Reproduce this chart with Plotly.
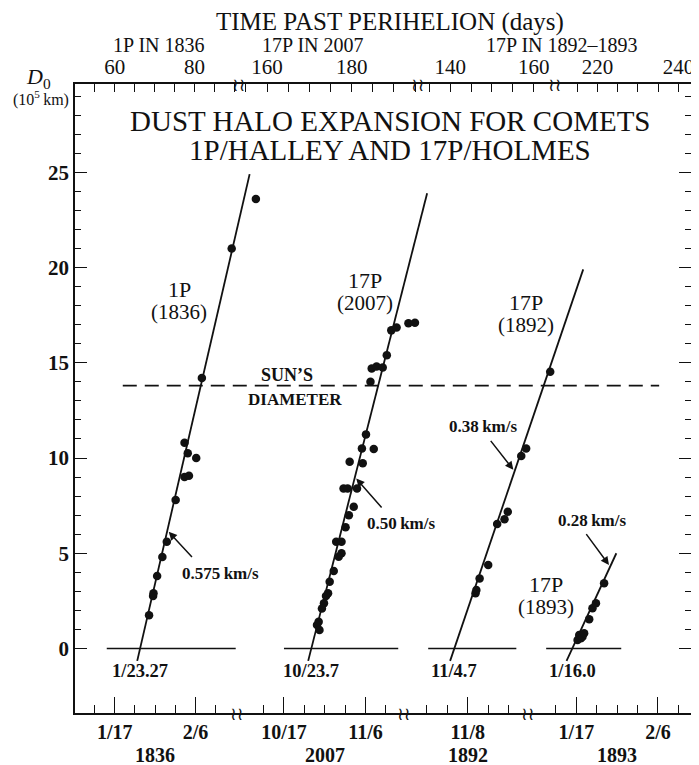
import plotly.graph_objects as go

# ---------------- data ----------------
# x values: days past perihelion; y values: halo diameter D0 in 1e5 km
# 1P/Halley 1836 (perihelion 1835 Nov 16)
HALLEY_T = [70.5, 71.5, 71.6, 72.5, 73.8, 74.9, 77.1, 79.3, 80.4, 79.3, 80.1, 82.2, 83.6, 91.0, 97.0]
HALLEY_D = [1.74, 2.75, 2.9, 3.8, 4.8, 5.6, 7.8, 9.0, 9.07, 10.8, 10.25, 10.0, 14.2, 21.0, 23.6]
# 17P/Holmes 2007 (perihelion 2007 May 4)
H2007_T = [174.5, 174.1, 174.7, 175.8, 175.3, 176.8, 176.3, 177.2, 178.2, 180.1, 179.4,
           178.8, 180.1, 181.1, 181.9, 183.1, 180.6, 181.6, 183.9, 182.1, 185.3,
           185.1, 188.0, 186.1, 187.2, 187.5, 188.7, 190.2, 191.2, 192.3, 193.6, 196.5, 198.1]
H2007_D = [1.4, 1.23, 0.97, 2.37, 2.1, 2.9, 2.76, 3.5, 4.07, 5.0, 4.82,
           5.6, 5.6, 6.36, 7.0, 7.44, 8.4, 8.4, 8.4, 9.8, 9.72,
           10.5, 10.47, 11.24, 14.0, 14.7, 14.8, 14.75, 15.4, 16.7, 16.85, 17.07, 17.1]
# 17P/Holmes 1892 (days past 1892 perihelion)
H1892_T = [146.9, 147.1, 147.9, 150.0, 152.2, 154.0, 154.8, 158.1, 159.3, 165.2]
H1892_D = [2.9, 3.07, 3.68, 4.38, 6.54, 6.78, 7.18, 10.1, 10.5, 14.53]
# 17P/Holmes 1893
H1893_T = [215.3, 215.7, 216.1, 216.5, 216.9, 218.15, 218.95, 219.8, 221.8]
H1893_D = [0.45, 0.71, 0.54, 0.62, 0.80, 1.53, 2.11, 2.37, 3.42]

PANEL_NAMES = ["1P", "17P", "17P", "17P"]
PANEL_YEARS = ["(1836)", "(2007)", "(1892)", "(1893)"]
ZERO_TIME = [68.27, 172.7, 141.7, 214.0]          # onset of expansion (days)
ZERO_LABELS = ["1/23.27", "10/23.7", "11/4.7", "1/16.0"]
RATE = [0.916, 0.842, 0.630, 0.463]                # 1e5 km per day (slope of fitted lines)
LINE_D_START = [-0.65, -0.65, -0.65, -0.65]
LINE_D_END = [24.9, 23.9, 19.9, 5.0]
SPEED_LABELS = ["0.575\u2009km/s", "0.50\u2009km/s", "0.38\u2009km/s", "0.28\u2009km/s"]
SPEED_ARROW_D = [6.2, 9.0, 9.3, 4.3]
BASE_START = [60.0, 166.0, 135.3, 207.6]
BASE_END = [92.0, 194.0, 156.9, 226.0]
SUN_DIAMETER = 13.8

# bottom (calendar) ticks
BOT_MAJOR = [[62, 82], [166, 186], [145], [215, 235]]
BOT_LABELS = [["1/17", "2/6"], ["10/17", "11/6"], ["11/8"], ["1/17", "2/6"]]
BOT_MINOR = [[57, 67, 72, 77, 87], [161, 171, 176, 181, 191], [135, 140, 150, 155],
             [210, 220, 225, 230, 240]]
BOT_YEARS = ["1836", "2007", "1892", "1893"]
BOT_YEAR_POS = [72, 176, 145, 225]
# top (time past perihelion) ticks
TOP_TICKS = [[55, 60, 65, 70, 75, 80, 85, 90],
             [155, 160, 165, 170, 175, 180, 185, 190, 195],
             [135, 140, 145, 150, 155, 160],
             [215, 220, 225, 230, 235, 240]]
TOP_LABELED = [[60, 80], [160, 180], [140, 160], [220, 240]]
TOP_GROUPS = ["1P IN 1836", "17P IN 2007", "17P IN 1892\u20131893"]
Y_MAJOR = [0, 5, 10, 15, 20, 25]
Y_MINOR = [v for v in range(1, 30) if v % 5 != 0]

# ---------------- geometry (screen pixels) ----------------
W, H = 699, 765
OFF = 8                      # page body margin
PL, PR, PT, PB = 75, 694, 84, 713
def fx(p):
    return (p - PL) / (PR - PL)
def fy(p):
    return (PB - p) / (PB - PT)

Y0_PX, PX_PER_UNIT = 648.5, 19.05
Y_RANGE = [-(PB - Y0_PX) / PX_PER_UNIT, (Y0_PX - PT) / PX_PER_UNIT]

# (reference day, its pixel, pixels/day, left px, right px)
BOT_GEO = [(62, 115, 4.05, 75, 262), (166, 285, 4.1, 238, 436),
           (145, 469.7, 4.1, 406, 594), (215, 578.8, 4.1, 530, 694)]
TOP_GEO = [(60, 115, 4.0, 75, 240), (160, 268, 4.25, 240, 420),
           (140, 452, 4.2, 420, 557), (220, 600, 4.07, 557, 694)]

SERIF = "Liberation Serif"
BLACK = "#111111"

def geo_axis(g):
    ref, refpx, ppd, a, b = g
    return [fx(a), fx(b)], [ref + (a - refpx) / ppd, ref + (b - refpx) / ppd]

fig = go.Figure()

series = [(HALLEY_T, HALLEY_D), (H2007_T, H2007_D), (H1892_T, H1892_D), (H1893_T, H1893_D)]
xnames = ["x", "x2", "x3", "x4"]

# dummy traces so the top axes and right axis are drawn
for k in range(4):
    fig.add_trace(go.Scatter(x=[None], y=[None], xaxis="x%d" % (k + 5), yaxis="y",
                             showlegend=False, hoverinfo="skip"))
fig.add_trace(go.Scatter(x=[None], y=[None], xaxis="x4", yaxis="y2",
                         showlegend=False, hoverinfo="skip"))

for i, (tt, dd) in enumerate(series):
    xa = xnames[i]
    # zero baseline
    fig.add_trace(go.Scatter(x=[BASE_START[i], BASE_END[i]], y=[0, 0], mode="lines",
                             line=dict(color=BLACK, width=1.6), xaxis=xa, yaxis="y",
                             showlegend=False, hoverinfo="skip"))
    # fitted expansion line
    d_ends = [LINE_D_START[i], LINE_D_END[i]]
    t_ends = [ZERO_TIME[i] + d / RATE[i] for d in d_ends]
    fig.add_trace(go.Scatter(x=t_ends, y=d_ends, mode="lines",
                             line=dict(color=BLACK, width=1.8), xaxis=xa, yaxis="y",
                             showlegend=False, hoverinfo="skip"))
    # measured points
    fig.add_trace(go.Scatter(x=tt, y=dd, mode="markers",
                             marker=dict(color=BLACK, size=8.5, line=dict(width=0)),
                             xaxis=xa, yaxis="y", showlegend=False, cliponaxis=False))

layout = dict(
    width=W - OFF, height=H - OFF,
    margin=dict(l=PL - OFF, r=W - PR, t=PT - OFF, b=H - PB, pad=0),
    paper_bgcolor="white", plot_bgcolor="rgba(0,0,0,0)", showlegend=False,
    font=dict(family=SERIF, color=BLACK),
)

axline = dict(showline=True, linecolor=BLACK, linewidth=1.7, showgrid=False, zeroline=False)

for i in range(4):
    dom, rng = geo_axis(BOT_GEO[i])
    key = "xaxis" if i == 0 else "xaxis%d" % (i + 1)
    layout[key] = dict(
        domain=dom, range=rng, anchor="y", side="bottom", **axline,
        ticks="inside", ticklen=16, tickwidth=1.4, tickcolor=BLACK,
        tickmode="array", tickvals=BOT_MAJOR[i], ticktext=BOT_LABELS[i],
        tickfont=dict(family=SERIF, size=20, weight="bold", color=BLACK),
        minor=dict(ticks="inside", ticklen=8, tickwidth=1.4, tickcolor=BLACK,
                   tickmode="array", tickvals=BOT_MINOR[i], showgrid=False),
        fixedrange=True,
    )
    dom_t, rng_t = geo_axis(TOP_GEO[i])
    layout["xaxis%d" % (i + 5)] = dict(
        domain=dom_t, range=rng_t, anchor="y", side="top", **axline,
        ticks="inside", ticklen=8, tickwidth=1.4, tickcolor=BLACK,
        tickmode="array", tickvals=TOP_TICKS[i],
        ticktext=[str(v) if v in TOP_LABELED[i] else "" for v in TOP_TICKS[i]],
        tickfont=dict(family=SERIF, size=21, color=BLACK),
        fixedrange=True,
    )

yaxis_common = dict(
    range=Y_RANGE, **axline, ticks="inside", ticklen=12, tickwidth=1.4, tickcolor=BLACK,
    tickmode="array", tickvals=Y_MAJOR,
    minor=dict(ticks="inside", ticklen=6, tickwidth=1.4, tickcolor=BLACK,
               tickmode="array", tickvals=Y_MINOR, showgrid=False),
    fixedrange=True,
)
layout["yaxis"] = dict(domain=[0, 1], anchor="x", side="left",
                       tickfont=dict(family=SERIF, size=21, weight="bold", color=BLACK),
                       **yaxis_common)
layout["yaxis2"] = dict(overlaying="y", anchor="x4", side="right", showticklabels=False,
                        **yaxis_common)

fig.update_layout(**layout)

# Sun's diameter reference line
fig.add_shape(type="line", xref="paper", yref="y", x0=fx(123), x1=fx(662),
              y0=SUN_DIAMETER, y1=SUN_DIAMETER,
              line=dict(color=BLACK, width=1.6, dash="14px,8px"))

ann = []
def text(x, y, s, size, bold=False, xref="paper", yref="paper", **kw):
    d = dict(x=x, y=y, xref=xref, yref=yref, text=("<b>%s</b>" % s) if bold else s,
             showarrow=False, font=dict(family=SERIF, size=size, color=BLACK),
             xanchor="center", yanchor="middle", borderpad=0)
    d.update(kw)
    ann.append(d)

# headers
text(fx(392), fy(22), "TIME PAST PERIHELION (days)", 25)
for s, px in zip(TOP_GROUPS, [159, 314, 564]):
    text(fx(px), fy(45), s, 20)
text(fx(38), fy(78), "<i>D</i><sub>0</sub>", 22)
text(fx(41), fy(98), "(10<sup>5</sup>\u2009km)", 16)
text(fx(392), fy(121.5), "DUST HALO EXPANSION FOR COMETS", 29)
text(fx(392), fy(150), "1P/HALLEY AND 17P/HOLMES", 29)

# panel labels
for name, yr, (px, py) in zip(PANEL_NAMES, PANEL_YEARS,
                              [(180, 289), (366, 280), (528, 302), (548, 584)]):
    text(fx(px), fy(py), name, 22)
    text(fx(px), fy(py + 23), yr, 21)

text(fx(288), fy(375), "SUN\u2019S", 18, bold=True)
text(fx(296), fy(399), "DIAMETER", 17, bold=True)

# zero-time labels and year labels
for i in range(4):
    xa = xnames[i]
    text(ZERO_TIME[i], fy(671), ZERO_LABELS[i], 18.5, bold=True, xref=xa)
    text(BOT_YEAR_POS[i], fy(755), BOT_YEARS[i], 20, bold=True, xref=xa)

# speed labels with arrows
SPEED_TEXT_PX = [(221, 573), (403, 523), (485, 426), (595, 520)]
SPEED_TAIL_OFF = [(26, 28), (28, 32), (-25, -32), (-25, -34)]
for i in range(4):
    d = SPEED_ARROW_D[i]
    xh = ZERO_TIME[i] + d / RATE[i]
    ax, ay = SPEED_TAIL_OFF[i]
    ann.append(dict(x=xh, y=d, xref=xnames[i], yref="y", text="", showarrow=True,
                    ax=ax, ay=ay, arrowhead=2, arrowsize=1.1, arrowwidth=1.5,
                    arrowcolor=BLACK, standoff=2))
    text(fx(SPEED_TEXT_PX[i][0]), fy(SPEED_TEXT_PX[i][1]), SPEED_LABELS[i], 17, bold=True)

# axis break marks
for px in [238, 406, 530]:
    ann.append(dict(x=fx(px), y=fy(PB), xref="paper", yref="paper", text="\u2240\u2240",
                    showarrow=False, font=dict(family="DejaVu Sans", size=18, color=BLACK),
                    xanchor="center", yanchor="middle"))
for px in [240, 420, 557]:
    ann.append(dict(x=fx(px), y=fy(PT), xref="paper", yref="paper", text="\u2240\u2240",
                    showarrow=False, font=dict(family="DejaVu Sans", size=18, color=BLACK),
                    xanchor="center", yanchor="middle"))

fig.update_layout(annotations=ann)
fig.write_html("out.html")
